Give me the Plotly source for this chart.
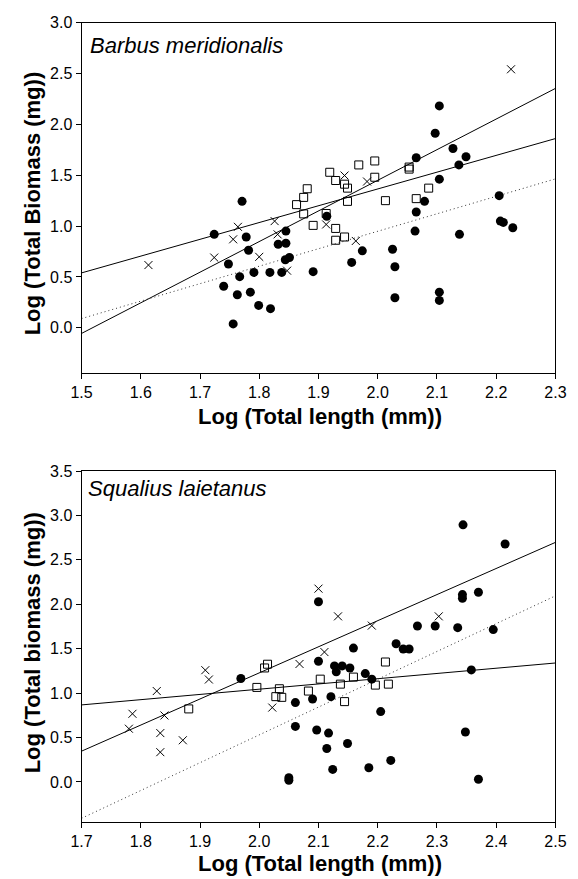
import plotly.graph_objects as go

# ---------------- Top panel: Barbus meridionalis ----------------
top_circ_x = [1.771, 1.724, 1.778, 1.782, 1.845, 1.832, 1.845, 1.844, 1.851, 1.748,
              1.767, 1.791, 1.818, 1.838, 1.740, 1.763, 1.785, 1.799, 1.819, 1.756,
              1.914, 1.891, 1.956, 1.974, 2.025, 2.029, 2.029, 2.065, 2.065, 2.063,
              2.079, 2.104, 2.097, 2.127, 2.149, 2.137, 2.104, 2.138, 2.205, 2.207,
              2.212, 2.228, 2.104, 2.104]
top_circ_y = [1.243, 0.919, 0.893, 0.763, 0.951, 0.822, 0.831, 0.669, 0.691, 0.627,
              0.503, 0.545, 0.545, 0.545, 0.409, 0.325, 0.351, 0.221, 0.189, 0.039,
              1.097, 0.552, 0.643, 0.757, 0.773, 0.601, 0.296, 1.672, 1.139, 0.951,
              1.243, 2.181, 1.912, 1.763, 1.682, 1.601, 1.461, 0.919, 1.299, 1.049,
              1.036, 0.984, 0.351, 0.270]

top_sq_x = [1.863, 1.875, 1.881, 1.875, 1.919, 1.929, 1.944, 1.949, 1.949, 1.968,
            1.995, 1.995, 2.013, 2.053, 2.053, 2.065, 2.086, 1.913, 1.891, 1.929,
            1.944, 1.929]
top_sq_y = [1.211, 1.282, 1.367, 1.120, 1.529, 1.448, 1.412, 1.373, 1.243, 1.601,
            1.640, 1.480, 1.250, 1.580, 1.560, 1.270, 1.373, 1.124, 1.007, 0.977,
            0.893, 0.861]

top_x_x = [1.613, 1.724, 1.756, 1.764, 1.800, 1.826, 1.831, 1.847, 1.913, 1.944,
           1.982, 1.963, 2.225]
top_x_y = [0.617, 0.691, 0.870, 0.993, 0.698, 1.049, 0.919, 0.562, 1.016, 1.497,
           1.438, 0.854, 2.541]

top_line_x = [1.5, 2.3]
top_line_shallow = [0.54, 1.86]
top_line_steep = [-0.055, 2.353]
top_line_dotted = [0.091, 1.464]

# ---------------- Bottom panel: Squalius laietanus ----------------
bot_circ_x = [2.344, 2.415, 2.343, 2.343, 2.370, 2.395, 2.335, 2.297, 2.267, 2.231,
              2.243, 2.253, 2.159, 2.100, 2.100, 2.127, 2.140, 2.153, 2.130, 2.179,
              2.190, 2.358, 2.061, 2.090, 2.121, 2.205, 2.061, 2.097, 2.117, 2.348,
              2.149, 2.114, 2.222, 2.185, 2.124, 2.050, 2.050, 2.370, 1.969]
bot_circ_y = [2.894, 2.679, 2.109, 2.068, 2.135, 1.715, 1.737, 1.756, 1.756, 1.555,
              1.496, 1.496, 1.507, 2.028, 1.358, 1.306, 1.306, 1.283, 1.239, 1.220,
              1.157, 1.261, 0.893, 0.934, 0.960, 0.792, 0.625, 0.584, 0.550, 0.562,
              0.432, 0.376, 0.242, 0.160, 0.141, 0.048, 0.019, 0.030, 1.164]

bot_sq_x = [1.881, 1.996, 2.009, 2.014, 2.034, 2.028, 2.038, 2.103, 2.083, 2.137,
            2.159, 2.213, 2.196, 2.218, 2.144]
bot_sq_y = [0.822, 1.064, 1.283, 1.325, 1.049, 0.960, 0.952, 1.157, 1.023, 1.101,
            1.180, 1.350, 1.090, 1.101, 0.904]

bot_x_x = [1.780, 1.786, 1.827, 1.833, 1.833, 1.840, 1.871, 1.909, 1.915, 2.022,
           2.068, 2.110, 2.100, 2.133, 2.190, 2.303]
bot_x_y = [0.599, 0.767, 1.023, 0.550, 0.335, 0.748, 0.469, 1.258, 1.153, 0.837,
           1.328, 1.462, 2.176, 1.864, 1.760, 1.864]

bot_line_x = [1.7, 2.5]
bot_line_steep = [0.346, 2.697]
bot_line_shallow = [0.867, 1.339]
bot_line_dotted = [-0.41, 2.095]

# ---------------- Figure ----------------
W, H = 578, 879
FONT = "Liberation Sans, Arial, sans-serif"


def px(xp):
    return xp / W


def py(yp):
    return 1 - yp / H


fig = go.Figure()


def add_panel(xa, ya, cx, cy, sx, sy, xx, xy, lx, l1, l2, ld):
    for ys, dash, col in [(l1, "solid", "black"), (l2, "solid", "black"),
                          (ld, "1px,3px", "#333333")]:
        fig.add_trace(go.Scatter(x=lx, y=ys, mode="lines", xaxis=xa, yaxis=ya,
                                 line=dict(color=col, width=1, dash=dash),
                                 showlegend=False, hoverinfo="skip"))
    fig.add_trace(go.Scatter(x=sx, y=sy, mode="markers", xaxis=xa, yaxis=ya,
                             marker=dict(symbol="square-open", size=8, color="black",
                                         line=dict(width=1, color="black")),
                             showlegend=False))
    fig.add_trace(go.Scatter(x=xx, y=xy, mode="markers", xaxis=xa, yaxis=ya,
                             marker=dict(symbol="x-thin-open", size=8, color="black",
                                         line=dict(width=1, color="black")),
                             showlegend=False))
    fig.add_trace(go.Scatter(x=cx, y=cy, mode="markers", xaxis=xa, yaxis=ya,
                             marker=dict(symbol="circle", size=9, color="black",
                                         line=dict(width=0)),
                             showlegend=False))


add_panel("x", "y", top_circ_x, top_circ_y, top_sq_x, top_sq_y, top_x_x, top_x_y,
          top_line_x, top_line_shallow, top_line_steep, top_line_dotted)
add_panel("x2", "y2", bot_circ_x, bot_circ_y, bot_sq_x, bot_sq_y, bot_x_x, bot_x_y,
          bot_line_x, bot_line_steep, bot_line_shallow, bot_line_dotted)

axis_common = dict(showline=True, mirror=True, linecolor="black", linewidth=1,
                   ticks="outside", ticklen=5, tickwidth=1, tickcolor="black",
                   showgrid=False, zeroline=False,
                   tickfont=dict(family=FONT, size=16, color="black"),
                   tickformat=".1f")

xdom = [px(73.3), px(566)]
fig.update_layout(
    width=W, height=H,
    margin=dict(l=0, r=0, t=0, b=0),
    paper_bgcolor="white", plot_bgcolor="white",
    font=dict(family=FONT, color="black"),
    xaxis=dict(domain=xdom, range=[1.5, 2.3], dtick=0.1, tick0=1.5, anchor="y", **axis_common),
    yaxis=dict(domain=[py(368.3), py(14.7)], range=[-0.443, 3.0], dtick=0.5, tick0=0,
               anchor="x", **axis_common),
    xaxis2=dict(domain=xdom, range=[1.7, 2.5], dtick=0.1, tick0=1.7, anchor="y2", **axis_common),
    yaxis2=dict(domain=[py(821), py(467.3)], range=[-0.446, 3.5], dtick=0.5, tick0=0,
                anchor="x2", **axis_common),
)

title_font = dict(family=FONT, size=22, color="black")
ann = [
    dict(text="<b>Log (Total length (mm))</b>", x=px(321), y=py(412), font=title_font),
    dict(text="<b>Log (Total length (mm))</b>", x=px(321), y=py(863), font=title_font),
    dict(text="<b>Log (Total Biomass (mg))</b>", x=px(22), y=py(197), textangle=-90, font=title_font),
    dict(text="<b>Log (Total biomass (mg))</b>", x=px(22), y=py(641), textangle=-90, font=title_font),
]
for a in ann:
    fig.add_annotation(xref="paper", yref="paper", showarrow=False,
                       xanchor="center", yanchor="middle", **a)

sp_font = dict(family=FONT, size=22, color="black")
fig.add_annotation(xref="paper", yref="paper", showarrow=False, xanchor="left", yanchor="middle",
                   x=px(80), y=py(38), text="<i>Barbus meridionalis</i>", font=sp_font)
fig.add_annotation(xref="paper", yref="paper", showarrow=False, xanchor="left", yanchor="middle",
                   x=px(78), y=py(485), text="<i>Squalius laietanus</i>", font=sp_font)

fig.write_html("out.html")
